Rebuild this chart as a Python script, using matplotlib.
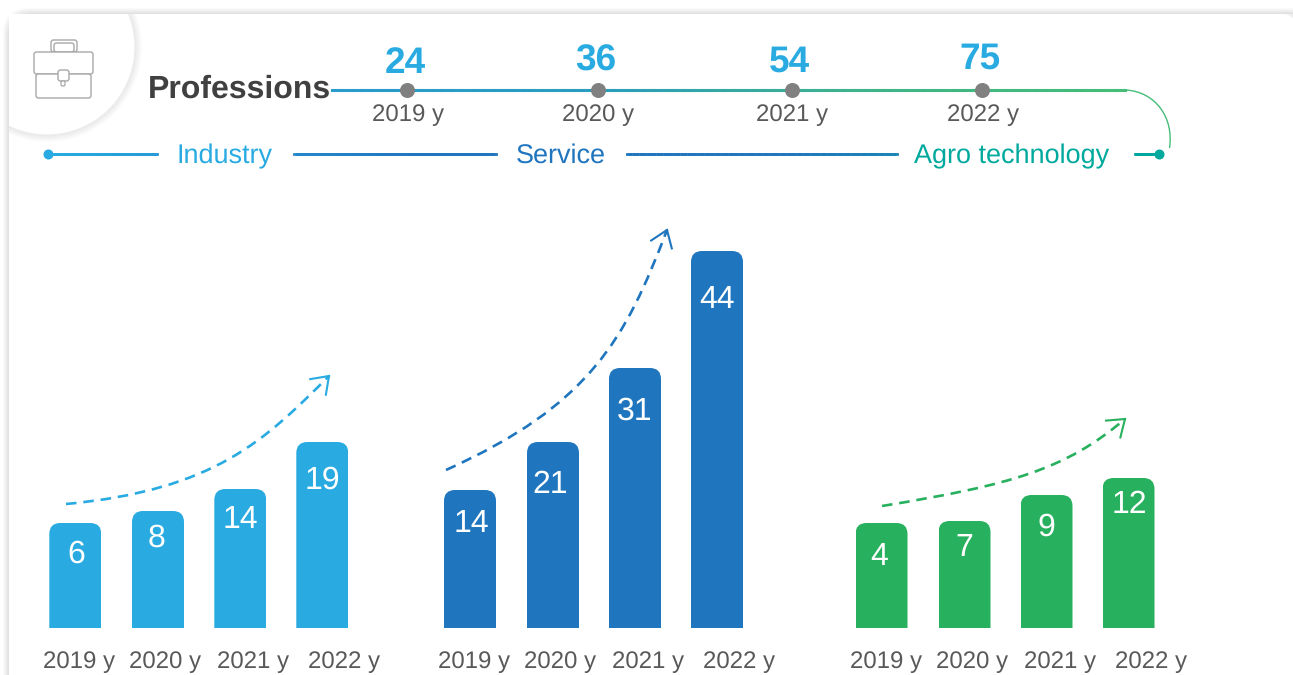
import numpy as np
import matplotlib
matplotlib.use("Agg")
import matplotlib.pyplot as plt
from matplotlib.patches import FancyBboxPatch, Circle, PathPatch
from matplotlib.path import Path
from matplotlib.collections import LineCollection
from matplotlib.colors import LinearSegmentedColormap

plt.rcParams['font.family'] = ['Liberation Sans', 'DejaVu Sans']
plt.rcParams['text.hinting'] = 'no_hinting'
plt.rcParams['text.hinting_factor'] = 1

# === Data ===
years = ["2019 y", "2020 y", "2021 y", "2022 y"]
totals = [24, 36, 54, 75]
groups = ["Industry", "Service", "Agro technology"]
group_values = [[6, 8, 14, 19], [14, 21, 31, 44], [4, 7, 9, 12]]
# bars in the picture are not to scale, so heights are read separately (px)
group_heights = [[105, 117, 139, 186], [138, 186, 260, 377], [105, 107, 133, 150]]
group_colors = ["#29abe2", "#1f75be", "#27b05d"]
label_colors = ["#29abe2", "#1f75be", "#00a99d"]

# === Layout (pixels) ===
W, H = 1293, 675
base_y = 628
bar_w = 52
bar_x = [[75.3, 158, 240.3, 322.3], [470, 553, 635, 717], [881.5, 964.5, 1046.5, 1128.5]]
year_x = [[79, 165, 253, 344], [474, 560, 648, 739], [886, 972, 1060, 1151]]
label_y = [[552, 536, 518, 478], [522, 483, 409, 298], [555, 546, 525, 503]]
label_x = [[76, 157, 240, 322], [471, 550, 635, 717], [879, 964, 1046, 1129]]
total_x = [407, 597.5, 791.5, 982]
total_y = [62, 60, 61, 58]


def gradient_line(x0, x1, y, cmap, t0, t1, lw):
    xs = np.linspace(x0, x1, 80)
    segs = np.stack([np.column_stack([xs[:-1], np.full(79, y)]),
                     np.column_stack([xs[1:], np.full(79, y)])], axis=1)
    ax.add_collection(LineCollection(segs, colors=cmap(np.linspace(t0, t1, 79)),
                                     linewidths=lw, capstyle="projecting", zorder=5))


fig = plt.figure(figsize=(W / 100, H / 100), dpi=100)
ax = fig.add_axes([0, 0, 1, 1])
ax.set_xlim(0, W)
ax.set_ylim(H, 0)
ax.axis("off")

# === Card with soft shadow ===
for i in range(6, 0, -1):
    ax.add_patch(FancyBboxPatch((9 - i, 14 - i), 1400, 800, boxstyle="round,pad=0,rounding_size=26",
                                fc="#000000", ec="none", alpha=0.02, zorder=1))
card = FancyBboxPatch((9, 14), 1400, 800, boxstyle="round,pad=0,rounding_size=0",
                      fc="white", ec="none", zorder=2)
ax.add_patch(card)
# rounded top right corner of the card
corner = Path([(1282, 14), (1288, 14.5), (1293, 18), (1293, 14), (1282, 14)])
ax.add_patch(PathPatch(corner, fc="#eeeeee", ec="none", zorder=2.5))

# === Icon circle ===
for i in range(7, 0, -1):
    c = Circle((47, 47), 88 + i, fc="#000000", ec="none", alpha=0.01, zorder=3)
    ax.add_patch(c)
    c.set_clip_path(card)
c = Circle((47, 47), 88, fc="white", ec="#ececec", lw=0.8, zorder=4)
ax.add_patch(c)
c.set_clip_path(card)

# === Briefcase icon ===
ic = "#a8a8a8"
for x0, y0, w, h in [(51, 40, 26, 12), (54, 43, 20, 9), (34, 52, 59, 22), (36, 74, 55, 24), (58, 70, 11, 11)]:
    ax.add_patch(FancyBboxPatch((x0, y0), w, h, boxstyle="round,pad=0,rounding_size=2.5",
                                fc="white", ec=ic, lw=1.0, zorder=5))
ax.add_patch(FancyBboxPatch((61, 81), 4, 5, boxstyle="round,pad=0,rounding_size=1.5",
                            fc="white", ec=ic, lw=0.9, zorder=5))

ax.text(148, 89, "Professions", fontsize=23, fontweight="bold", color="#404040",
        ha="left", va="center", zorder=6)

# === Gradient timeline ===
line_cmap = LinearSegmentedColormap.from_list("tl", ["#2a9bcb", "#2a9dbe", "#3fb38a", "#46bd78"])
gradient_line(332, 1125, 90, line_cmap, 0, 1, 2.2)
curve = Path([(1126, 90), (1156, 92), (1174, 118), (1169.5, 148)],
             [Path.MOVETO, Path.CURVE4, Path.CURVE4, Path.CURVE4])
ax.add_patch(PathPatch(curve, fc="none", ec="#46bd78", lw=1.0, zorder=5))

for x, y, v, yr in zip(total_x, total_y, totals, years):
    ax.scatter([x], [90], s=117, color="#808080", zorder=6, linewidths=0)
    ax.text(x - 2, y + 1.5, str(v), fontsize=26.5, fontweight="bold", color="#29abe2",
            ha="center", va="center", zorder=6)
    ax.text(x + 1, 115, yr, fontsize=17.3, color="#595959", ha="center", va="center", zorder=6)

# === Group header line ===
hdr_y = 153.5
hdr_cmap = LinearSegmentedColormap.from_list("hd", ["#29abe2", "#1f75be", "#1f75be", "#00a99d"])
for x0, x1 in [(49, 157), (294, 496), (627, 897), (1135, 1159)]:
    gradient_line(x0, x1, hdr_y, hdr_cmap, (x0 - 48) / 1111, (x1 - 48) / 1111, 2.0)
ax.scatter([48], [hdr_y], s=52, color="#29abe2", zorder=6, linewidths=0)
ax.scatter([1159], [hdr_y], s=52, color="#00a99d", zorder=6, linewidths=0)
for name, col, x in zip(groups, label_colors, [224.5, 560.5, 1012]):
    ax.text(x, 156, name, fontsize=19.4, color=col, ha="center", va="center", zorder=6)

# === Bars, rounded at the top ===
for g in range(3):
    tops = [base_y - h for h in group_heights[g]]
    bars = ax.bar(bar_x[g], group_heights[g], bottom=tops, width=bar_w,
                  color=group_colors[g], linewidth=0, zorder=4)
    for b, top in zip(bars, tops):
        clip = FancyBboxPatch((b.get_x(), top), bar_w, 500, boxstyle="round,pad=0,rounding_size=11",
                              transform=ax.transData, fc="none", ec="none")
        ax.add_patch(clip)
        b.set_clip_path(clip)
    for x, y, v in zip(label_x[g], label_y[g], group_values[g]):
        ax.text(x, y + 2, str(v), fontsize=23, color="white", ha="center", va="center", zorder=5)
    for x, yr in zip(year_x[g], years):
        ax.text(x, 662, yr, fontsize=17.3, color="#595959", ha="center", va="center", zorder=5)

# === Dashed growth arrows ===
arrows = [
    ([(66, 504), (215, 490), (265, 440), (329, 376)], "#29abe2"),
    ([(446, 470), (590, 405), (625, 340), (667, 230)], "#1f75be"),
    ([(882, 506), (1010, 485), (1065, 470), (1125, 419)], "#27b05d"),
]
for pts, col in arrows:
    p = Path(pts, [Path.MOVETO, Path.CURVE4, Path.CURVE4, Path.CURVE4])
    ax.add_patch(PathPatch(p, fc="none", ec=col, lw=1.9, linestyle=(0, (4, 2.6)), zorder=5))
    end = np.array(pts[3], float)
    d = end - np.array(pts[2], float)
    ang = np.arctan2(d[1], d[0])
    for s in (-1, 1):
        a = ang + np.pi + s * 0.62
        tip = end + 19 * np.array([np.cos(a), np.sin(a)])
        ax.plot([end[0], tip[0]], [end[1], tip[1]], color=col, lw=1.5, zorder=5)

fig.savefig("out.png", dpi=100)
